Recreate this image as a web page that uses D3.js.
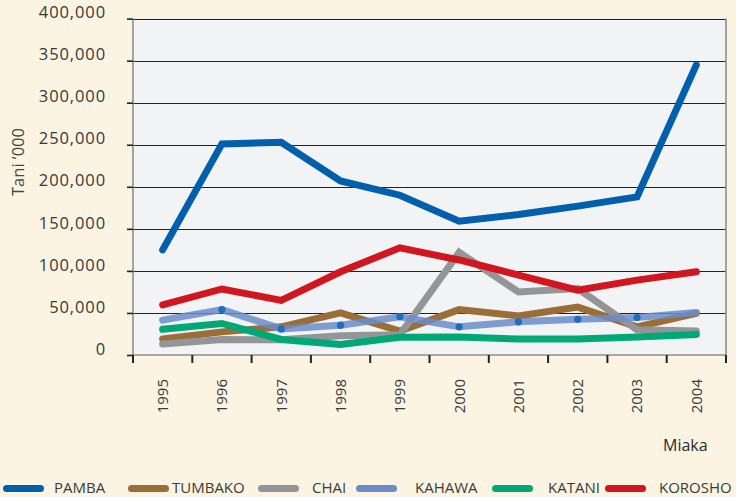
<!DOCTYPE html>
<html><head><meta charset="utf-8">
<script src="https://cdn.jsdelivr.net/npm/d3@7"></script>
<style>
html,body{margin:0;padding:0;background:#fcf4e3;}
svg{display:block;font-family:"Open Sans",sans-serif;}
</style></head>
<body>
<svg id="chart" width="736" height="497"></svg>
<script>
// ---- data ----
const years = ["1995","1996","1997","1998","1999","2000","2001","2002","2003","2004"];
const seriesNames = ["PAMBA","TUMBAKO","CHAI","KAHAWA","KATANI","KOROSHO"];
const pamba   = [125000,251000,253000,207000,190000,159000,167000,177000,188000,345000];
const tumbako = [19000,27500,33500,50000,28500,54000,46500,57000,33500,49500];
const chai    = [13000,18500,18000,23000,24000,122000,75000,79000,30000,28500];
const kahawa  = [41500,54000,31000,35500,45500,33500,39500,42500,44500,50500];
const katani  = [30500,37500,18500,12500,21000,21500,19000,19000,21500,24500];
const korosho = [59500,78500,65000,99000,127500,113000,95000,77000,89000,99000];
const yTicks  = [0,50000,100000,150000,200000,250000,300000,350000,400000];
const yTitle = "Tani ’000";
const xTitle = "Miaka";

const seriesValues = [pamba,tumbako,chai,kahawa,katani,korosho];
const colors = ["#0060ad","#9b6e37","#939598","#6b8cc9","#00a878","#d2161f"];

// ---- layout ----
const svg = d3.select("#chart");
const L = 133, R = 726, T = 18.6, B = 355;

const x = d3.scaleBand().domain(years).range([L, R]).paddingInner(0).paddingOuter(0);
const y = d3.scaleLinear().domain([0, 400000]).range([B, T]);
const cx = d => x(d) + x.bandwidth()/2;

// plot background
svg.append("rect").attr("x", L).attr("y", T).attr("width", R-L).attr("height", B-T)
  .attr("fill", "#f2f3f5");

// gridlines
svg.append("g").selectAll("line").data(yTicks.filter(v => v > 0)).join("line")
  .attr("x1", L).attr("x2", R)
  .attr("y1", d => Math.round(y(d))+0.5).attr("y2", d => Math.round(y(d))+0.5)
  .attr("stroke", "#222").attr("stroke-width", 1.2);

// border (left, right, bottom)
svg.append("path")
  .attr("d", `M${L},${T}V${B}H${R}V${T}`)
  .attr("fill", "none").attr("stroke", "#8e8e8e").attr("stroke-width", 1.6);

// y axis
const yAxis = svg.append("g").attr("transform", `translate(${L},0)`)
  .call(d3.axisLeft(y).tickValues(yTicks).tickSize(6).tickPadding(21)
    .tickFormat(d3.format(",")));
yAxis.select(".domain").remove();
yAxis.selectAll(".tick line").attr("stroke", "#222").attr("stroke-width", 1.6);
yAxis.selectAll(".tick text")
  .attr("fill", "#383838").attr("font-size", "16.5px")
  .attr("letter-spacing", "0.9px")
  .attr("font-family", "'Open Sans',sans-serif")
  .attr("dy", "-0.05em");

// x axis ticks at band boundaries
const bounds = years.map(d => x(d)).concat([R]);
svg.append("g").selectAll("line").data(bounds).join("line")
  .attr("x1", d => d).attr("x2", d => d)
  .attr("y1", B).attr("y2", B + 8)
  .attr("stroke", "#222").attr("stroke-width", 2);

// x labels
svg.append("g").selectAll("text").data(years).join("text")
  .attr("transform", d => `translate(${cx(d)},379) rotate(-90)`)
  .attr("text-anchor", "end").attr("dy", "0.36em")
  .attr("font-size", "15px").attr("fill", "#383838")
  .text(d => d);

// y title
svg.append("text")
  .attr("transform", "translate(18,162) rotate(-90)")
  .attr("text-anchor", "middle").attr("dy", "0.36em")
  .attr("font-size", "16.5px").attr("fill", "#444")
  .text(yTitle);

// x title
svg.append("text").attr("x", 663).attr("y", 451)
  .attr("font-size", "16px").attr("fill", "#2a2a2a")
  .text(xTitle);

// lines
const line = d3.line().x((d, i) => cx(years[i])).y(d => y(d));
seriesValues.forEach((vals, si) => {
  svg.append("path").datum(vals)
    .attr("d", line)
    .attr("fill", "none")
    .attr("stroke", colors[si])
    .attr("stroke-width", 7)
    .attr("stroke-linecap", "round")
    .attr("stroke-linejoin", "miter")
    .attr("stroke-opacity", seriesNames[si] === "KAHAWA" ? 0.85 : 1);
  if (seriesNames[si] === "KAHAWA") {
    svg.append("g").selectAll("circle")
      .data(vals.map((v, i) => ({v, i})).filter(d => d.i > 0 && d.i < vals.length - 1))
      .join("circle")
      .attr("cx", d => cx(years[d.i])).attr("cy", d => y(d.v))
      .attr("r", 3.6).attr("fill", "#1f6dc0");
  }
});

// legend
const legendSwatchX = [3,128,258,356,492,605];
const legendTextX = [54,172,312,415,548,659];
const lg = svg.append("g");
seriesNames.forEach((name, i) => {
  lg.append("line")
    .attr("x1", legendSwatchX[i] + 3.5).attr("x2", legendSwatchX[i] + 41 - 3.5)
    .attr("y1", 488.5).attr("y2", 488.5)
    .attr("stroke", colors[i]).attr("stroke-width", 7).attr("stroke-linecap", "round");
  lg.append("text").attr("x", legendTextX[i]).attr("y", 493)
    .attr("font-size", "15px").attr("fill", "#3a3a3a")
    .text(name);
});
</script>
</body></html>
